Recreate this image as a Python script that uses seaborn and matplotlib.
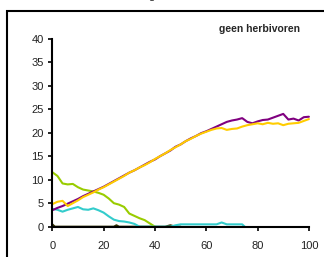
import matplotlib
matplotlib.use("Agg")
import matplotlib.pyplot as plt
import seaborn as sns
import pandas as pd
import numpy as np
from matplotlib.patches import Rectangle

# tijd-as (0..100, stap 2)
x_lang = list(range(0, 101, 2))

paars = [3.5, 4.0, 4.4, 4.9, 5.4, 5.9, 6.5, 7.0, 7.5, 8.0, 8.5, 9.1, 9.7, 10.3, 10.9, 11.5,
         12.0, 12.6, 13.2, 13.8, 14.3, 15.0, 15.6, 16.2, 17.0, 17.5, 18.2, 18.8, 19.3, 19.9,
         20.3, 20.8, 21.3, 21.8, 22.3, 22.6, 22.8, 23.1, 22.3, 22.0, 22.4, 22.7, 22.8, 23.2,
         23.6, 24.0, 22.8, 23.0, 22.6, 23.3, 23.4]

oranje = [4.8, 5.3, 5.5, 4.4, 5.0, 5.6, 6.3, 6.8, 7.3, 7.9, 8.4, 9.0, 9.6, 10.2, 10.8, 11.5,
          12.0, 12.6, 13.1, 13.7, 14.4, 15.0, 15.6, 16.3, 16.9, 17.5, 18.2, 18.7, 19.3, 19.8,
          20.2, 20.6, 20.9, 21.0, 20.6, 20.8, 20.9, 21.3, 21.6, 21.8, 22.0, 21.8, 22.1, 21.9,
          22.0, 21.6, 21.9, 22.0, 22.1, 22.5, 22.9]

x_groen = list(range(0, 41, 2))
groen = [11.6, 10.8, 9.2, 9.0, 9.1, 8.4, 7.9, 7.7, 7.5, 7.2, 6.8, 6.0, 5.0, 4.7, 4.2, 2.8,
         2.3, 1.8, 1.4, 0.7, 0.0]

x_cyaan = [0, 2, 4, 6, 8, 10, 12, 14, 16, 18, 20, 22, 24, 26, 28, 30, 32, 34, 40, 46,
           48, 50, 54, 58, 62, 64, 66, 68, 72, 74, 75]
cyaan = [3.8, 3.6, 3.2, 3.6, 3.9, 4.2, 3.7, 3.6, 3.9, 3.5, 3.0, 2.2, 1.5, 1.2, 1.1, 0.9,
         0.6, 0.0, 0.0, 0.0, 0.3, 0.5, 0.5, 0.5, 0.5, 0.5, 0.9, 0.5, 0.5, 0.5, 0.0]

x_olijf = [0, 1, 4, 24, 25, 26, 44, 46, 48, 50]
olijf = [0.5, 0.0, 0.0, 0.0, 0.3, 0.0, 0.0, 0.3, 0.0, 0.0]

sns.set_style("ticks")
plt.rcParams["font.family"] = ["Liberation Sans", "DejaVu Sans"]

fig = plt.figure(figsize=(3.24, 2.57), dpi=100)
ax = fig.add_axes([0.1614, 0.1179, 0.792, 0.7315])

reeksen = [
    (x_olijf, olijf, "#333300"),
    (x_groen, groen, "#99CC00"),
    (x_cyaan, cyaan, "#33CCCC"),
    (x_lang, paars, "#800080"),
    (x_lang, oranje, "#FFCC00"),
]
for xs, ys, kleur in reeksen:
    df = pd.DataFrame({"t": xs, "n": ys})
    sns.lineplot(data=df, x="t", y="n", ax=ax, color=kleur, linewidth=1.5,
                 clip_on=False)

ax.set_xlim(0, 100)
ax.set_ylim(0, 40)
ax.set_xticks([0, 20, 40, 60, 80, 100])
ax.set_yticks(range(0, 41, 5))
ax.set_xlabel("")
ax.set_ylabel("")
sns.despine(ax=ax)
for s in ["left", "bottom"]:
    ax.spines[s].set_linewidth(1.5)
    ax.spines[s].set_color("black")
ax.tick_params(axis="both", direction="out", length=3, width=1.2, labelsize=8,
               colors="black", labelcolor="#222222", pad=3)
ax.tick_params(axis="x", pad=7)

fig.text(0.802, 0.887, "geen herbivoren", fontsize=7.5, fontweight="bold",
         ha="center", va="center")
fig.text(0.469, 1.004, "g", fontsize=8, ha="center", va="baseline")

fig.patches.append(Rectangle((0.0216, -0.2), 1.3, 0.957 + 0.2, transform=fig.transFigure,
                             fill=False, edgecolor="black", linewidth=1.5))

fig.savefig("out.png", dpi=100)
